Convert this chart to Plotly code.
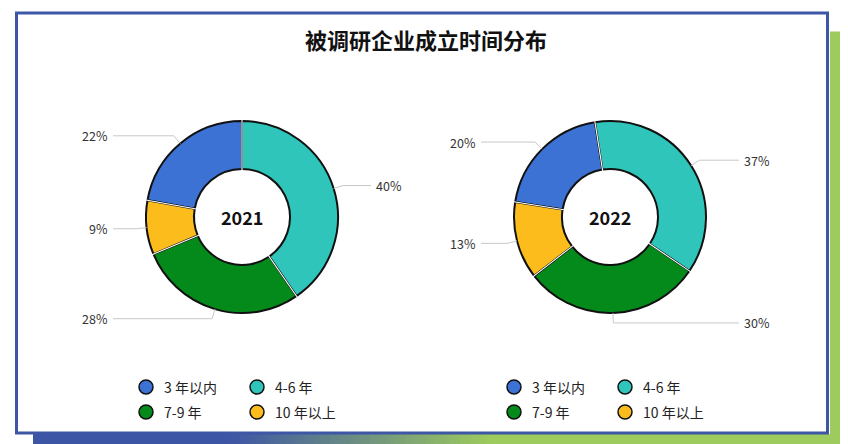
import math
import plotly.graph_objects as go

# ---------------- data ----------------
categories = ["3 年以内", "4-6 年", "7-9 年", "10 年以上"]
years = ["2021", "2022"]
values_2021 = [22, 40, 28, 9]
values_2022 = [20, 37, 30, 13]
series = [values_2021, values_2022]

title_text = "被调研企业成立时间分布"

# ---------------- style ----------------
OFF = 8                      # page body margin of the html page
W, H = 848 - OFF, 444 - OFF
colors = ["#3b72d3", "#30c5bb", "#048a1b", "#fbbc1c"]
FONT = "Noto Sans CJK SC, Noto Sans, sans-serif"
centers = [(242, 217), (610, 217)]
R = 96
HOLE = 0.5
rotations = [-80, -81]        # start angle of first slice (deg, clockwise from 12 o'clock)
LINE_LEN = 10
LABEL_OFF = 132


def X(px):
    return (px - OFF) / W


def Y(py):
    return 1 - (py - OFF) / H


fig = go.Figure()
shapes = []
annotations = []

# ---------- decorative frame ----------
shapes.append(dict(type="rect", xref="paper", yref="paper", x0=X(830), x1=X(860), y0=Y(460), y1=Y(31.5),
                   fillcolor="#9dcb5d", line=dict(width=0), layer="below"))
c0 = (61, 85, 165)
c1 = (157, 203, 93)
gx0, gx1 = 230, 490
shapes.append(dict(type="rect", xref="paper", yref="paper", x0=X(33), x1=X(gx0), y0=Y(460), y1=Y(434),
                   fillcolor="rgb(61,85,165)", line=dict(width=0), layer="below"))
steps = 52
for i in range(steps):
    t = (i + 0.5) / steps
    col = "rgb(%d,%d,%d)" % tuple(round(c0[k] + (c1[k] - c0[k]) * t) for k in range(3))
    xa = gx0 + (gx1 - gx0) * i / steps
    xb = gx0 + (gx1 - gx0) * (i + 1) / steps + 0.6
    shapes.append(dict(type="rect", xref="paper", yref="paper", x0=X(xa), x1=X(xb), y0=Y(460), y1=Y(434),
                       fillcolor=col, line=dict(width=0), layer="below"))
shapes.append(dict(type="rect", xref="paper", yref="paper", x0=X(gx1), x1=X(860), y0=Y(460), y1=Y(434),
                   fillcolor="rgb(157,203,93)", line=dict(width=0), layer="below"))
shapes.append(dict(type="rect", xref="paper", yref="paper", x0=X(16.5), x1=X(827.5), y0=Y(433), y1=Y(13),
                   fillcolor="white", line=dict(color="#3d57a6", width=3), layer="below"))

# ---------- pies ----------
for k, (vals, year) in enumerate(zip(series, years)):
    cx, cy = centers[k]
    fig.add_trace(go.Pie(
        labels=categories, values=vals, hole=HOLE, sort=False, direction="clockwise",
        rotation=rotations[k], textinfo="none", hoverinfo="label+value",
        marker=dict(colors=colors, line=dict(color="#111111", width=2.0)),
        domain=dict(x=[X(cx - R), X(cx + R)], y=[Y(cy + R), Y(cy - R)]),
        showlegend=False, name=year,
    ))
    total = sum(vals)
    ang = rotations[k]
    r_in = R * HOLE
    for v in vals:
        a0 = ang
        a1 = ang + v / total * 360
        ang = a1
        # white gap at slice boundary
        rb = math.radians(a0)
        shapes.append(dict(type="line", xref="paper", yref="paper",
                           x0=X(cx + (r_in - 3) * math.sin(rb)), y0=Y(cy - (r_in - 3) * math.cos(rb)),
                           x1=X(cx + (R + 3) * math.sin(rb)), y1=Y(cy - (R + 3) * math.cos(rb)),
                           line=dict(color="white", width=1.1), layer="above"))
        # label with leader line
        mid = math.radians((a0 + a1) / 2)
        sx, sy = math.sin(mid), -math.cos(mid)
        px0, py0 = cx + R * sx, cy + R * sy
        px1, py1 = cx + (R + LINE_LEN) * sx, cy + (R + LINE_LEN) * sy
        right = sx > 0
        px2 = cx + (LABEL_OFF - 3) if right else cx - (LABEL_OFF - 3)
        path = "M %f %f L %f %f L %f %f" % (X(px0), Y(py0), X(px1), Y(py1), X(px2), Y(py1))
        shapes.append(dict(type="path", xref="paper", yref="paper", path=path,
                           line=dict(color="#c8c8c8", width=1), layer="above"))
        annotations.append(dict(
            xref="paper", yref="paper", x=X(cx + LABEL_OFF if right else cx - LABEL_OFF), y=Y(py1),
            text="%d%%" % v, showarrow=False, xanchor="left" if right else "right", yanchor="middle",
            font=dict(family=FONT, size=12.5, color="#333333")))
    # centre text
    annotations.append(dict(xref="paper", yref="paper", x=X(cx), y=Y(cy), text="<b>%s</b>" % year,
                            showarrow=False, xanchor="center", yanchor="middle",
                            font=dict(family=FONT, size=18, color="#111111")))
    # legend (2 x 2 grid)
    for i, (cat, col) in enumerate(zip(categories, colors)):
        lx = cx - 96 + (i % 2) * 111
        ly = 387 + (i // 2) * 25
        shapes.append(dict(type="circle", xref="paper", yref="paper",
                           x0=X(lx - 7), x1=X(lx + 7), y0=Y(ly + 7), y1=Y(ly - 7),
                           fillcolor=col, line=dict(color="#111111", width=1.5), layer="above"))
        annotations.append(dict(xref="paper", yref="paper", x=X(lx + 16), y=Y(ly), text=cat,
                                showarrow=False, xanchor="left", yanchor="middle",
                                font=dict(family=FONT, size=14, color="#222222")))

# title
annotations.append(dict(xref="paper", yref="paper", x=X(426), y=Y(39), text="<b>%s</b>" % title_text,
                        showarrow=False, xanchor="center", yanchor="middle",
                        font=dict(family=FONT, size=22, color="#111111")))

fig.update_layout(
    width=W, height=H, margin=dict(l=0, r=0, t=0, b=0),
    paper_bgcolor="white", plot_bgcolor="white",
    shapes=shapes, annotations=annotations, showlegend=False,
)

fig.write_html("out.html")
